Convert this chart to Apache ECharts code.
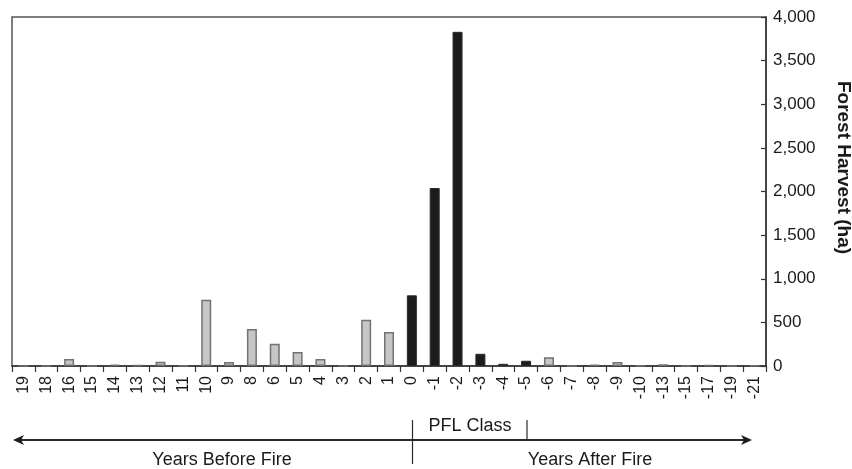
<!DOCTYPE html>
<html>
<head>
<meta charset="utf-8">
<script src="https://cdn.jsdelivr.net/npm/echarts@6/dist/echarts.min.js"></script>
<style>
html,body{margin:0;padding:0;background:#fff;}
#chart{width:852px;height:469px;}
</style>
</head>
<body>
<div id="chart"></div>
<script>
// PFL class (years relative to fire)
var categories = ['19','18','16','15','14','13','12','11','10','9','8','6','5','4','3','2','1','0','-1','-2','-3','-4','-5','-6','-7','-8','-9','-10','-13','-15','-17','-19','-21'];
// Forest harvest (ha)
var harvest = [0,0,80,0,15,10,50,5,760,45,425,255,160,80,0,530,390,810,2040,3830,140,25,60,100,0,15,45,5,20,0,12,0,5];
// PFL classes drawn in black
var blackClasses = ['0','-1','-2','-3','-4','-5'];
var yTicks = [0,500,1000,1500,2000,2500,3000,3500,4000];

var FONT = "'Liberation Sans', Arial, Helvetica, sans-serif";
var chart = echarts.init(document.getElementById('chart'));

var barData = harvest.map(function (v, i) {
  var black = blackClasses.indexOf(categories[i]) >= 0;
  return {
    value: v,
    itemStyle: black
      ? { color: '#1c1c1c', borderColor: '#2a2a2a', borderWidth: 1 }
      : { color: '#c6c6c6', borderColor: '#727272', borderWidth: 1.5 }
  };
});

var lineColor = '#333';

chart.setOption({
  animation: false,
  backgroundColor: '#fff',
  grid: {
    left: 12, right: 86, top: 17, bottom: 103,
    outerBoundsMode: 'none', containLabel: false,
    show: true, borderColor: '#555', borderWidth: 1.5, backgroundColor: 'transparent'
  },
  xAxis: {
    type: 'category',
    data: categories,
    axisLine: { lineStyle: { color: lineColor, width: 1.5 } },
    axisTick: { show: true, length: 6, lineStyle: { color: lineColor, width: 1.2 } },
    axisLabel: {
      interval: 0, rotate: 90, margin: 10,
      fontSize: 16, fontFamily: FONT, color: '#1a1a1a'
    },
    splitLine: { show: false }
  },
  yAxis: {
    type: 'value',
    position: 'right',
    min: 0, max: 4000, interval: 500,
    axisLine: { show: true, lineStyle: { color: lineColor, width: 1.5 } },
    axisTick: { show: true, inside: true, length: 5, lineStyle: { color: lineColor, width: 1.2 } },
    axisLabel: {
      margin: 7, fontSize: 17, fontFamily: FONT, color: '#1a1a1a',
      formatter: function (v) { return yTicks.indexOf(v) >= 0 ? v.toLocaleString('en-US') : ''; }
    },
    splitLine: { show: false },
    name: 'Forest Harvest (ha)',
    nameLocation: 'middle',
    nameRotate: -90,
    nameGap: 68,
    nameTextStyle: { fontSize: 19, fontWeight: 'bold', fontFamily: FONT, color: '#1a1a1a', padding: [0, 48, 0, 0] }
  },
  series: [{
    type: 'bar',
    data: barData,
    barWidth: 10
  }],
  graphic: [
    { type: 'line', shape: { x1: 20, y1: 440, x2: 745, y2: 440 }, style: { stroke: '#2a2a2a', lineWidth: 2 } },
    { type: 'polygon', shape: { points: [[13, 440], [24, 435], [21, 440], [24, 445]] }, style: { fill: '#1a1a1a' } },
    { type: 'polygon', shape: { points: [[752, 440], [741, 435], [744, 440], [741, 445]] }, style: { fill: '#1a1a1a' } },
    { type: 'line', shape: { x1: 412.5, y1: 420, x2: 412.5, y2: 464 }, style: { stroke: '#2a2a2a', lineWidth: 1.2 } },
    { type: 'line', shape: { x1: 527, y1: 420, x2: 527, y2: 440 }, style: { stroke: '#2a2a2a', lineWidth: 1.2 } },
    { type: 'text', x: 470, y: 426, style: { text: 'PFL Class', fontSize: 18, fontFamily: FONT, fill: '#1a1a1a', align: 'center', verticalAlign: 'middle' } },
    { type: 'text', x: 222, y: 460, style: { text: 'Years Before Fire', fontSize: 18, fontFamily: FONT, fill: '#1a1a1a', align: 'center', verticalAlign: 'middle' } },
    { type: 'text', x: 590, y: 460, style: { text: 'Years After Fire', fontSize: 18, fontFamily: FONT, fill: '#1a1a1a', align: 'center', verticalAlign: 'middle' } }
  ]
});
</script>
</body>
</html>
